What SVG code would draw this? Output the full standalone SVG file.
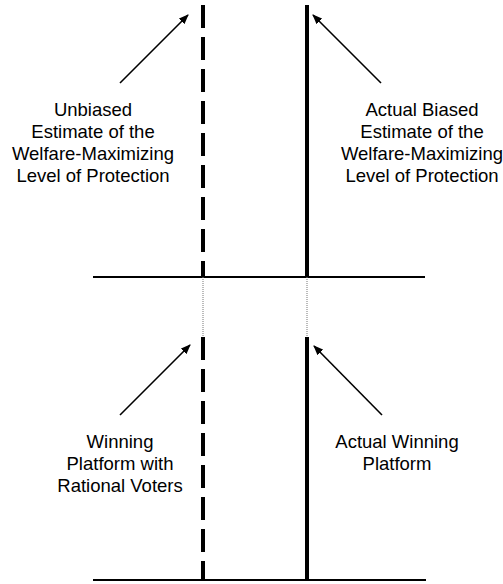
<svg xmlns="http://www.w3.org/2000/svg" width="503" height="584" viewBox="0 0 503 584">
<defs>
<marker id="ah" markerWidth="10" markerHeight="8" refX="9" refY="4" orient="auto" markerUnits="userSpaceOnUse">
<path d="M0,0 L10,4 L0,8 Z" fill="#000"/>
</marker>
<style>
text{font-family:"Liberation Sans",Arial,sans-serif;font-size:18.5px;fill:#000;text-anchor:middle}
.dash{stroke:#000;stroke-width:4;stroke-dasharray:23 9;fill:none}
.solid{stroke:#000;stroke-width:4;fill:none}
.axis{stroke:#000;stroke-width:2;fill:none}
.dot{stroke:#777;stroke-width:1;stroke-dasharray:1 1;fill:none}
.arr{stroke:#000;stroke-width:1.6;fill:none;marker-end:url(#ah)}
</style>
</defs>
<rect width="503" height="584" fill="#fff"/>
<g id="top-axis"><line class="axis" x1="93" y1="277" x2="425" y2="277"/></g>
<g id="bottom-axis"><line class="axis" x1="93" y1="580" x2="426" y2="580"/></g>
<g id="unbiased-line"><line class="dash" x1="203" y1="5" x2="203" y2="277"/></g>
<g id="biased-line"><line class="solid" x1="307" y1="5" x2="307" y2="277"/></g>
<g id="rational-line"><line class="dash" x1="203" y1="337" x2="203" y2="580"/></g>
<g id="actual-line"><line class="solid" x1="307" y1="337" x2="307" y2="580"/></g>
<g id="connectors">
<line class="dot" x1="203" y1="277" x2="203" y2="337"/>
<line class="dot" x1="307" y1="277" x2="307" y2="337"/>
<line class="arr" x1="120" y1="83" x2="188" y2="15"/>
<line class="arr" x1="381" y1="83" x2="313" y2="15"/>
<line class="arr" x1="120" y1="415" x2="190" y2="345"/>
<line class="arr" x1="382" y1="415" x2="314" y2="346"/>
</g>
<g id="label-unbiased">
<text x="93" y="116">Unbiased</text>
<text x="93" y="138">Estimate of the</text>
<text x="93" y="160">Welfare-Maximizing</text>
<text x="93" y="182">Level of Protection</text>
</g>
<g id="label-biased">
<text x="422" y="116">Actual Biased</text>
<text x="422" y="138">Estimate of the</text>
<text x="422" y="160">Welfare-Maximizing</text>
<text x="422" y="182">Level of Protection</text>
</g>
<g id="label-rational">
<text x="120" y="448">Winning</text>
<text x="120" y="470">Platform with</text>
<text x="120" y="492">Rational Voters</text>
</g>
<g id="label-actual">
<text x="397" y="448">Actual Winning</text>
<text x="397" y="470">Platform</text>
</g>
</svg>
